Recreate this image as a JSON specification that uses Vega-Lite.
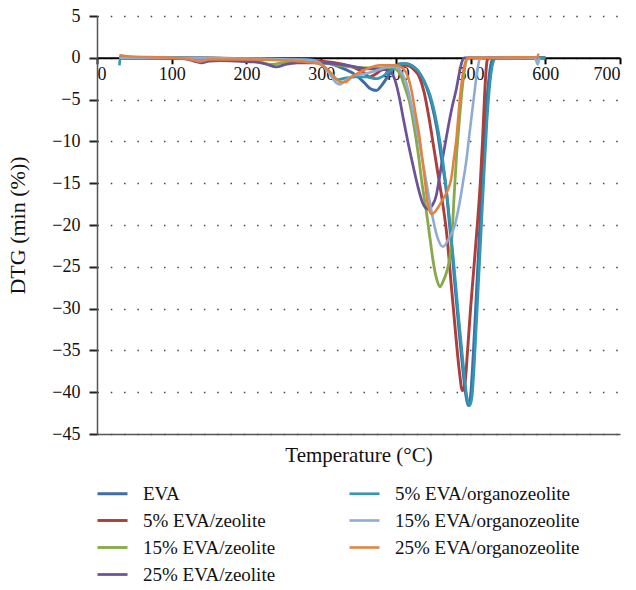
{
  "$schema": "https://vega.github.io/schema/vega-lite/v6.json",
  "width": 523,
  "height": 418,
  "autosize": "none",
  "padding": {"left": 97, "top": 16, "right": 16, "bottom": 156},
  "config": {
    "font": "Liberation Serif",
    "view": {"stroke": null},
    "axis": {"labelFont": "Liberation Serif", "titleFont": "Liberation Serif", "labelColor": "#111", "titleColor": "#111", "titleFontWeight": "normal"},
    "legend": {"labelFont": "Liberation Serif"}
  },
  "data": {
    "values": [
      {"s":"EVA","t":30,"v":0},{"s":"EVA","t":100,"v":-0.05},{"s":"EVA","t":200,"v":-0.1},{"s":"EVA","t":280,"v":-0.2},{"s":"EVA","t":312,"v":-0.7},{"s":"EVA","t":330,"v":-1.3},{"s":"EVA","t":347,"v":-2.1},{"s":"EVA","t":358,"v":-3},{"s":"EVA","t":366,"v":-3.7},{"s":"EVA","t":374,"v":-3.9},{"s":"EVA","t":381,"v":-3.3},{"s":"EVA","t":388,"v":-2.4},{"s":"EVA","t":398,"v":-1.1},{"s":"EVA","t":406,"v":-0.7},{"s":"EVA","t":414,"v":-0.7},{"s":"EVA","t":424,"v":-1.1},{"s":"EVA","t":432,"v":-1.9},{"s":"EVA","t":441,"v":-3.5},{"s":"EVA","t":448,"v":-5.5},{"s":"EVA","t":455,"v":-8.5},{"s":"EVA","t":461,"v":-12},{"s":"EVA","t":467,"v":-15.5},{"s":"EVA","t":472,"v":-20},{"s":"EVA","t":478,"v":-26},{"s":"EVA","t":484,"v":-32},{"s":"EVA","t":490,"v":-37.5},{"s":"EVA","t":494,"v":-40.5},{"s":"EVA","t":497,"v":-41.6},{"s":"EVA","t":500,"v":-40.5},{"s":"EVA","t":504,"v":-35},{"s":"EVA","t":508,"v":-28},{"s":"EVA","t":512,"v":-21},{"s":"EVA","t":516,"v":-14},{"s":"EVA","t":520,"v":-7.5},{"s":"EVA","t":524,"v":-3},{"s":"EVA","t":528,"v":-0.5},{"s":"EVA","t":532,"v":0},{"s":"EVA","t":600,"v":0},

      {"s":"5% EVA/zeolite","t":30,"v":0},{"s":"5% EVA/zeolite","t":100,"v":0},{"s":"5% EVA/zeolite","t":200,"v":-0.1},{"s":"5% EVA/zeolite","t":300,"v":-0.4},{"s":"5% EVA/zeolite","t":330,"v":-0.8},{"s":"5% EVA/zeolite","t":345,"v":-1.2},{"s":"5% EVA/zeolite","t":356,"v":-1.7},{"s":"5% EVA/zeolite","t":365,"v":-2.3},{"s":"5% EVA/zeolite","t":372,"v":-2},{"s":"5% EVA/zeolite","t":380,"v":-1.5},{"s":"5% EVA/zeolite","t":396,"v":-1.1},{"s":"5% EVA/zeolite","t":414,"v":-0.9},{"s":"5% EVA/zeolite","t":424,"v":-1.4},{"s":"5% EVA/zeolite","t":432,"v":-2.4},{"s":"5% EVA/zeolite","t":438,"v":-4.2},{"s":"5% EVA/zeolite","t":444,"v":-7},{"s":"5% EVA/zeolite","t":450,"v":-10.3},{"s":"5% EVA/zeolite","t":456,"v":-13.7},{"s":"5% EVA/zeolite","t":462,"v":-17},{"s":"5% EVA/zeolite","t":468,"v":-21},{"s":"5% EVA/zeolite","t":474,"v":-27},{"s":"5% EVA/zeolite","t":480,"v":-33},{"s":"5% EVA/zeolite","t":485,"v":-37.5},{"s":"5% EVA/zeolite","t":489,"v":-39.8},{"s":"5% EVA/zeolite","t":492,"v":-39.3},{"s":"5% EVA/zeolite","t":496,"v":-35},{"s":"5% EVA/zeolite","t":500,"v":-30},{"s":"5% EVA/zeolite","t":505,"v":-24.5},{"s":"5% EVA/zeolite","t":509,"v":-20},{"s":"5% EVA/zeolite","t":513,"v":-15},{"s":"5% EVA/zeolite","t":516,"v":-10},{"s":"5% EVA/zeolite","t":518,"v":-6},{"s":"5% EVA/zeolite","t":520,"v":-2.5},{"s":"5% EVA/zeolite","t":522,"v":-0.4},{"s":"5% EVA/zeolite","t":524,"v":0},{"s":"5% EVA/zeolite","t":600,"v":0},

      {"s":"15% EVA/zeolite","t":30,"v":0},{"s":"15% EVA/zeolite","t":100,"v":0},{"s":"15% EVA/zeolite","t":150,"v":-0.2},{"s":"15% EVA/zeolite","t":200,"v":-0.3},{"s":"15% EVA/zeolite","t":218,"v":-0.5},{"s":"15% EVA/zeolite","t":233,"v":-0.8},{"s":"15% EVA/zeolite","t":248,"v":-0.6},{"s":"15% EVA/zeolite","t":270,"v":-0.5},{"s":"15% EVA/zeolite","t":300,"v":-0.6},{"s":"15% EVA/zeolite","t":330,"v":-1},{"s":"15% EVA/zeolite","t":360,"v":-1.2},{"s":"15% EVA/zeolite","t":390,"v":-1.2},{"s":"15% EVA/zeolite","t":400,"v":-1.4},{"s":"15% EVA/zeolite","t":406,"v":-2},{"s":"15% EVA/zeolite","t":412,"v":-3.5},{"s":"15% EVA/zeolite","t":418,"v":-5.2},{"s":"15% EVA/zeolite","t":424,"v":-8},{"s":"15% EVA/zeolite","t":430,"v":-11.5},{"s":"15% EVA/zeolite","t":435,"v":-15},{"s":"15% EVA/zeolite","t":441,"v":-18.5},{"s":"15% EVA/zeolite","t":446,"v":-21.8},{"s":"15% EVA/zeolite","t":450,"v":-24.4},{"s":"15% EVA/zeolite","t":455,"v":-26.6},{"s":"15% EVA/zeolite","t":459,"v":-27.4},{"s":"15% EVA/zeolite","t":463,"v":-26.8},{"s":"15% EVA/zeolite","t":468,"v":-25.6},{"s":"15% EVA/zeolite","t":472,"v":-24},{"s":"15% EVA/zeolite","t":475,"v":-21.5},{"s":"15% EVA/zeolite","t":478,"v":-16.5},{"s":"15% EVA/zeolite","t":481,"v":-12},{"s":"15% EVA/zeolite","t":485,"v":-7.5},{"s":"15% EVA/zeolite","t":489,"v":-3.5},{"s":"15% EVA/zeolite","t":493,"v":-0.8},{"s":"15% EVA/zeolite","t":496,"v":0},{"s":"15% EVA/zeolite","t":600,"v":0},

      {"s":"25% EVA/zeolite","t":30,"v":0},{"s":"25% EVA/zeolite","t":100,"v":0},{"s":"25% EVA/zeolite","t":120,"v":-0.15},{"s":"25% EVA/zeolite","t":132,"v":-0.45},{"s":"25% EVA/zeolite","t":140,"v":-0.6},{"s":"25% EVA/zeolite","t":150,"v":-0.4},{"s":"25% EVA/zeolite","t":165,"v":-0.35},{"s":"25% EVA/zeolite","t":187,"v":-0.4},{"s":"25% EVA/zeolite","t":210,"v":-0.5},{"s":"25% EVA/zeolite","t":228,"v":-0.8},{"s":"25% EVA/zeolite","t":240,"v":-1.1},{"s":"25% EVA/zeolite","t":252,"v":-0.8},{"s":"25% EVA/zeolite","t":268,"v":-0.6},{"s":"25% EVA/zeolite","t":300,"v":-0.6},{"s":"25% EVA/zeolite","t":334,"v":-0.9},{"s":"25% EVA/zeolite","t":361,"v":-1.3},{"s":"25% EVA/zeolite","t":385,"v":-1.4},{"s":"25% EVA/zeolite","t":393,"v":-1.7},{"s":"25% EVA/zeolite","t":399,"v":-2.7},{"s":"25% EVA/zeolite","t":405,"v":-4.9},{"s":"25% EVA/zeolite","t":410,"v":-7.3},{"s":"25% EVA/zeolite","t":416,"v":-10},{"s":"25% EVA/zeolite","t":423,"v":-12.9},{"s":"25% EVA/zeolite","t":430,"v":-15.6},{"s":"25% EVA/zeolite","t":436,"v":-17.4},{"s":"25% EVA/zeolite","t":443,"v":-18.1},{"s":"25% EVA/zeolite","t":449,"v":-17.6},{"s":"25% EVA/zeolite","t":454,"v":-16.5},{"s":"25% EVA/zeolite","t":458,"v":-14.5},{"s":"25% EVA/zeolite","t":462,"v":-12.3},{"s":"25% EVA/zeolite","t":466,"v":-10.3},{"s":"25% EVA/zeolite","t":470,"v":-8.3},{"s":"25% EVA/zeolite","t":475,"v":-6},{"s":"25% EVA/zeolite","t":481,"v":-3.7},{"s":"25% EVA/zeolite","t":485,"v":-1.8},{"s":"25% EVA/zeolite","t":488,"v":-0.6},{"s":"25% EVA/zeolite","t":492,"v":0},{"s":"25% EVA/zeolite","t":600,"v":0},

      {"s":"5% EVA/organozeolite","t":30,"v":-0.9},{"s":"5% EVA/organozeolite","t":31,"v":0},{"s":"5% EVA/organozeolite","t":100,"v":0},{"s":"5% EVA/organozeolite","t":200,"v":-0.1},{"s":"5% EVA/organozeolite","t":280,"v":-0.3},{"s":"5% EVA/organozeolite","t":300,"v":-0.8},{"s":"5% EVA/organozeolite","t":312,"v":-1.8},{"s":"5% EVA/organozeolite","t":322,"v":-2.6},{"s":"5% EVA/organozeolite","t":334,"v":-2.4},{"s":"5% EVA/organozeolite","t":347,"v":-2.3},{"s":"5% EVA/organozeolite","t":360,"v":-2.3},{"s":"5% EVA/organozeolite","t":374,"v":-2.5},{"s":"5% EVA/organozeolite","t":386,"v":-2},{"s":"5% EVA/organozeolite","t":396,"v":-1.3},{"s":"5% EVA/organozeolite","t":404,"v":-0.8},{"s":"5% EVA/organozeolite","t":412,"v":-0.7},{"s":"5% EVA/organozeolite","t":422,"v":-1},{"s":"5% EVA/organozeolite","t":430,"v":-1.6},{"s":"5% EVA/organozeolite","t":438,"v":-2.8},{"s":"5% EVA/organozeolite","t":446,"v":-4.5},{"s":"5% EVA/organozeolite","t":453,"v":-7},{"s":"5% EVA/organozeolite","t":460,"v":-10.5},{"s":"5% EVA/organozeolite","t":466,"v":-14.5},{"s":"5% EVA/organozeolite","t":472,"v":-19.5},{"s":"5% EVA/organozeolite","t":478,"v":-25},{"s":"5% EVA/organozeolite","t":484,"v":-31},{"s":"5% EVA/organozeolite","t":490,"v":-36.5},{"s":"5% EVA/organozeolite","t":495,"v":-40.5},{"s":"5% EVA/organozeolite","t":499,"v":-41.6},{"s":"5% EVA/organozeolite","t":502,"v":-40.5},{"s":"5% EVA/organozeolite","t":506,"v":-35},{"s":"5% EVA/organozeolite","t":510,"v":-28},{"s":"5% EVA/organozeolite","t":514,"v":-21},{"s":"5% EVA/organozeolite","t":518,"v":-14},{"s":"5% EVA/organozeolite","t":522,"v":-7.5},{"s":"5% EVA/organozeolite","t":526,"v":-3},{"s":"5% EVA/organozeolite","t":530,"v":-0.6},{"s":"5% EVA/organozeolite","t":534,"v":0},{"s":"5% EVA/organozeolite","t":600,"v":0},

      {"s":"15% EVA/organozeolite","t":30,"v":0},{"s":"15% EVA/organozeolite","t":100,"v":0},{"s":"15% EVA/organozeolite","t":200,"v":-0.1},{"s":"15% EVA/organozeolite","t":290,"v":-0.3},{"s":"15% EVA/organozeolite","t":303,"v":-1},{"s":"15% EVA/organozeolite","t":312,"v":-2},{"s":"15% EVA/organozeolite","t":318,"v":-2.8},{"s":"15% EVA/organozeolite","t":325,"v":-3.2},{"s":"15% EVA/organozeolite","t":333,"v":-2.7},{"s":"15% EVA/organozeolite","t":345,"v":-2.1},{"s":"15% EVA/organozeolite","t":360,"v":-1.9},{"s":"15% EVA/organozeolite","t":375,"v":-1.5},{"s":"15% EVA/organozeolite","t":390,"v":-1.1},{"s":"15% EVA/organozeolite","t":400,"v":-1.1},{"s":"15% EVA/organozeolite","t":408,"v":-1.8},{"s":"15% EVA/organozeolite","t":414,"v":-3},{"s":"15% EVA/organozeolite","t":421,"v":-5.7},{"s":"15% EVA/organozeolite","t":429,"v":-9},{"s":"15% EVA/organozeolite","t":436,"v":-12.5},{"s":"15% EVA/organozeolite","t":442,"v":-15.5},{"s":"15% EVA/organozeolite","t":448,"v":-18.5},{"s":"15% EVA/organozeolite","t":455,"v":-21.3},{"s":"15% EVA/organozeolite","t":463,"v":-22.6},{"s":"15% EVA/organozeolite","t":471,"v":-21.6},{"s":"15% EVA/organozeolite","t":479,"v":-20},{"s":"15% EVA/organozeolite","t":485,"v":-17.5},{"s":"15% EVA/organozeolite","t":490,"v":-14.8},{"s":"15% EVA/organozeolite","t":494,"v":-12.5},{"s":"15% EVA/organozeolite","t":498,"v":-9.5},{"s":"15% EVA/organozeolite","t":502,"v":-6.5},{"s":"15% EVA/organozeolite","t":505,"v":-4.3},{"s":"15% EVA/organozeolite","t":509,"v":-1.5},{"s":"15% EVA/organozeolite","t":512,"v":-0.2},{"s":"15% EVA/organozeolite","t":514,"v":0},{"s":"15% EVA/organozeolite","t":586,"v":0},{"s":"15% EVA/organozeolite","t":590,"v":-0.8},{"s":"15% EVA/organozeolite","t":592,"v":0},

      {"s":"25% EVA/organozeolite","t":30,"v":0.35},{"s":"25% EVA/organozeolite","t":40,"v":0.2},{"s":"25% EVA/organozeolite","t":100,"v":0},{"s":"25% EVA/organozeolite","t":125,"v":-0.2},{"s":"25% EVA/organozeolite","t":138,"v":-0.45},{"s":"25% EVA/organozeolite","t":150,"v":-0.2},{"s":"25% EVA/organozeolite","t":200,"v":-0.2},{"s":"25% EVA/organozeolite","t":245,"v":-0.3},{"s":"25% EVA/organozeolite","t":280,"v":-0.5},{"s":"25% EVA/organozeolite","t":296,"v":-0.7},{"s":"25% EVA/organozeolite","t":305,"v":-1.1},{"s":"25% EVA/organozeolite","t":313,"v":-1.8},{"s":"25% EVA/organozeolite","t":320,"v":-2.5},{"s":"25% EVA/organozeolite","t":326,"v":-2.9},{"s":"25% EVA/organozeolite","t":332,"v":-2.9},{"s":"25% EVA/organozeolite","t":342,"v":-2.2},{"s":"25% EVA/organozeolite","t":352,"v":-1.7},{"s":"25% EVA/organozeolite","t":365,"v":-1.2},{"s":"25% EVA/organozeolite","t":378,"v":-0.9},{"s":"25% EVA/organozeolite","t":401,"v":-0.9},{"s":"25% EVA/organozeolite","t":408,"v":-1.2},{"s":"25% EVA/organozeolite","t":414,"v":-1.8},{"s":"25% EVA/organozeolite","t":420,"v":-3.5},{"s":"25% EVA/organozeolite","t":426,"v":-6.5},{"s":"25% EVA/organozeolite","t":432,"v":-9.7},{"s":"25% EVA/organozeolite","t":438,"v":-14},{"s":"25% EVA/organozeolite","t":443,"v":-17.6},{"s":"25% EVA/organozeolite","t":448,"v":-18.7},{"s":"25% EVA/organozeolite","t":455,"v":-18.1},{"s":"25% EVA/organozeolite","t":463,"v":-16.9},{"s":"25% EVA/organozeolite","t":470,"v":-15.7},{"s":"25% EVA/organozeolite","t":474,"v":-14.5},{"s":"25% EVA/organozeolite","t":478,"v":-11.8},{"s":"25% EVA/organozeolite","t":481,"v":-9.7},{"s":"25% EVA/organozeolite","t":485,"v":-5.5},{"s":"25% EVA/organozeolite","t":490,"v":-1.7},{"s":"25% EVA/organozeolite","t":494,"v":-0.3},{"s":"25% EVA/organozeolite","t":497,"v":0},{"s":"25% EVA/organozeolite","t":589,"v":0.1},{"s":"25% EVA/organozeolite","t":591,"v":0.5}
    ]
  },
  "layer": [
    {
      "mark": {"type": "point", "opacity": 0, "size": 1},
      "encoding": {
        "x": {"field": "t", "type": "quantitative", "scale": {"domain": [0, 700], "nice": false},
          "axis": {"title": "Temperature (°C)", "labels": false, "ticks": false, "grid": false, "domainColor": "#555", "domainWidth": 1.5, "titleFontSize": 21, "titlePadding": 10}},
        "y": {"field": "v", "type": "quantitative", "scale": {"domain": [-45, 5], "nice": false},
          "axis": {"title": "DTG (min (%))", "titleFontSize": 22, "values": [-45,-40,-35,-30,-25,-20,-15,-10,-5,0,5], "labelFontSize": 18, "tickSize": 8, "tickWidth": 2, "tickColor": "#222", "labelPadding": 9, "domainColor": "#555", "domainWidth": 1.5, "grid": true, "gridColor": "#444", "gridWidth": 1.5, "gridDash": [1.5, 11.8], "titlePadding": 22}}
      }
    },
    {
      "mark": {"type": "line", "interpolate": "monotone"},
      "encoding": {
        "x": {"field": "t", "type": "quantitative", "scale": {"domain": [0, 700], "nice": false},
          "axis": {"title": null, "offset": -376.2, "orient": "bottom", "values": [0,100,200,300,400,500,600,700], "grid": false, "domainColor": "#000", "domainWidth": 2, "tickColor": "#000", "tickWidth": 2, "tickSize": 6, "labelFontSize": 18, "labelPadding": 2}},
        "y": {"field": "v", "type": "quantitative", "scale": {"domain": [-45, 5], "nice": false},
          "axis": {"title": "DTG (min (%))", "titleFontSize": 22, "values": [-45,-40,-35,-30,-25,-20,-15,-10,-5,0,5], "labelFontSize": 18, "tickSize": 8, "tickWidth": 2, "tickColor": "#222", "labelPadding": 9, "domainColor": "#555", "domainWidth": 1.5, "grid": true, "gridColor": "#444", "gridWidth": 1.5, "gridDash": [1.5, 11.8], "titlePadding": 22}},
        "color": {"field": "s", "type": "nominal",
          "scale": {"domain": ["EVA", "5% EVA/zeolite", "15% EVA/zeolite", "25% EVA/zeolite", "5% EVA/organozeolite", "15% EVA/organozeolite", "25% EVA/organozeolite"],
                    "range": ["#3d6ea8", "#ab3f3c", "#88aa4c", "#6a5399", "#3397b2", "#8eabd3", "#e4813b"]},
          "legend": {"title": null, "orient": "none", "legendX": -1, "legendY": 461, "columns": 2, "columnPadding": 68, "rowPadding": 0, "symbolType": "stroke", "symbolSize": 900, "symbolStrokeWidth": 2.5, "labelFontSize": 19, "labelOffset": 14, "labelColor": "#111", "padding": 0, "labelLimit": 300}},
        "strokeWidth": {"field": "s", "type": "nominal",
          "scale": {"domain": ["EVA", "5% EVA/zeolite", "15% EVA/zeolite", "25% EVA/zeolite", "5% EVA/organozeolite", "15% EVA/organozeolite", "25% EVA/organozeolite"], "range": [3, 2.5, 2.5, 2, 3, 1.5, 2.5]},
          "legend": null}
      }
    }
  ],
  "resolve": {"axis": {"x": "independent"}}
}
